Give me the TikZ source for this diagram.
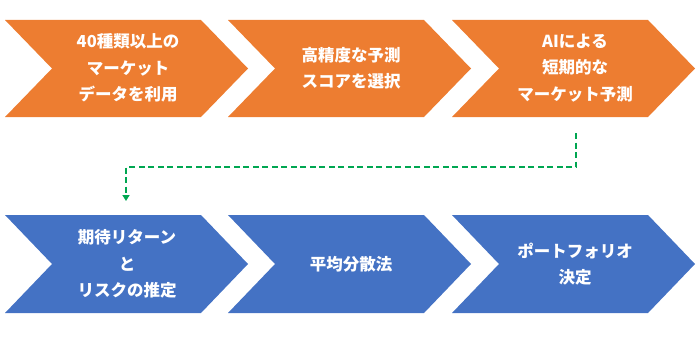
\documentclass[tikz,border=0pt]{standalone}
\usepackage{fontspec}
\setmainfont{Noto Sans CJK JP}
\usetikzlibrary{arrows.meta}
\definecolor{orng}{HTML}{ED7D31}
\definecolor{blu}{HTML}{4472C4}
\definecolor{grn}{HTML}{00A651}
\newcommand{\chevpath}[4]{% left, top, bottom, colour
  \fill[#4] (#1,#2) -- ({#1+196},#2) -- ({#1+243},{(#2+#3)/2}) -- ({#1+196},#3) -- (#1,#3) -- ({#1+47},{(#2+#3)/2}) -- cycle;}
\begin{document}
\begin{tikzpicture}[x=1pt,y=-1pt,
  lbl/.style={text=white,font=\fontsize{16.5}{26.5}\selectfont\bfseries,align=center,inner sep=0pt}]
\useasboundingbox (0,0) rectangle (700,342);
\chevpath{5}{20}{117}{orng}
\chevpath{228}{20}{117}{orng}
\chevpath{452}{20}{117}{orng}
\chevpath{5}{215}{313}{blu}
\chevpath{228}{215}{313}{blu}
\chevpath{452}{215}{313}{blu}
\node[lbl] (t1) at (128,68) {40種類以上の\\マーケット\\データを利用};
\node[lbl] (t2) at (351,68) {高精度な予測\\スコアを選択};
\node[lbl] (t3) at (575,68) {AIによる\\短期的な\\マーケット予測};
\node[lbl] (b1) at (127,264) {期待リターン\\と\\リスクの推定};
\node[lbl] (b2) at (351,264) {平均分散法};
\node[lbl] (b3) at (575,264) {ポートフォリオ\\決定};
\coordinate (cs) at (576,133);
\coordinate (ce) at (126,201);
\draw[grn,line width=2.2pt,dash pattern=on 6pt off 3.5pt,-{Triangle[width=7pt,length=6pt]}] (cs) |- (126,167) -- (ce);
\end{tikzpicture}
\end{document}
